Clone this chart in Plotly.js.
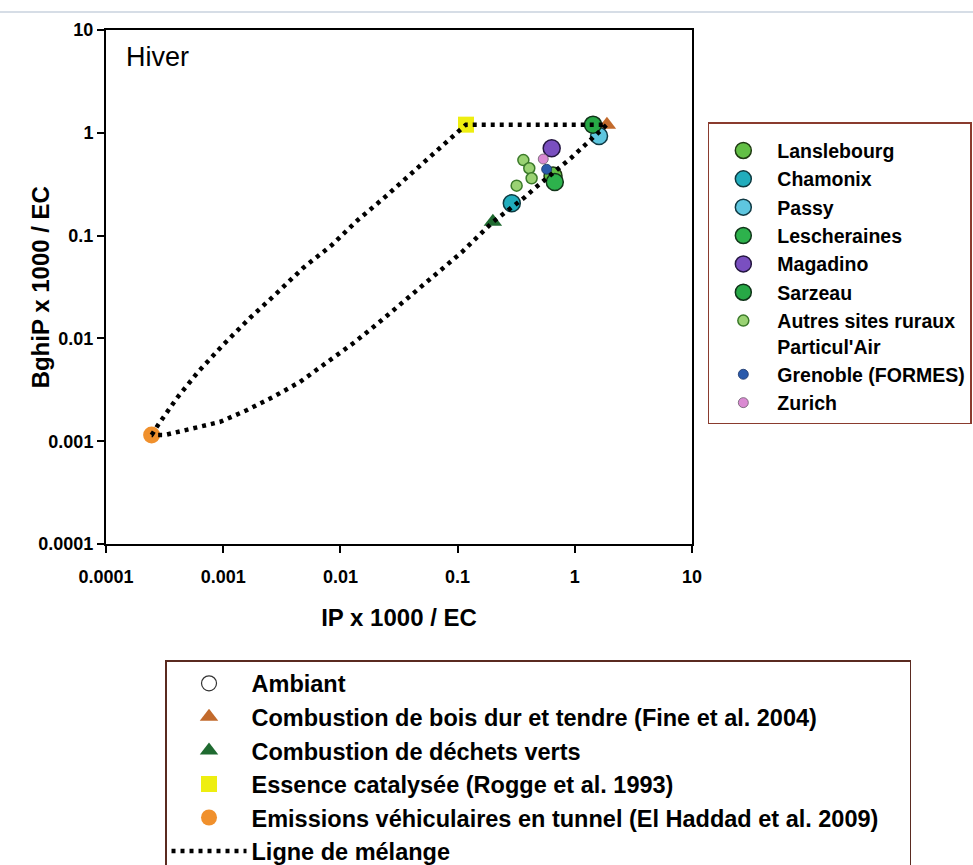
<!DOCTYPE html>
<html>
<head>
<meta charset="utf-8">
<script src="https://cdn.plot.ly/plotly-3.0.1.min.js"></script>
<style>html,body{margin:0;padding:0;background:#fff;}#chart{width:973px;height:865px;}</style>
</head>
<body>
<div id="chart"></div>
<script>
// ---- Tick labels ----
var tickValues = [0.0001, 0.001, 0.01, 0.1, 1, 10];
var tickLabels = ["0.0001", "0.001", "0.01", "0.1", "1", "10"];

// ---- Ambient sites (IP x1000/EC, BghiP x1000/EC) ----
var lanslebourgX = [0.652];  var lanslebourgY = [0.380];
var chamonixX = [0.290];     var chamonixY = [0.206];
var passyX = [1.61];         var passyY = [0.93];
var lescherainesX = [0.675]; var lescherainesY = [0.332];
var magadinoX = [0.635];     var magadinoY = [0.707];
var sarzeauX = [1.43];       var sarzeauY = [1.20];
var autresX = [0.364, 0.409, 0.428, 0.319];
var autresY = [0.543, 0.452, 0.361, 0.306];
var grenobleX = [0.575];     var grenobleY = [0.442];
var zurichX = [0.538];       var zurichY = [0.556];

// ---- Sources ----
var boisX = [1.88];          var boisY = [1.20];
var dechetsX = [0.200];      var dechetsY = [0.136];
var essenceX = [0.118];      var essenceY = [1.20];
var tunnelX = [0.000245];    var tunnelY = [0.00115];

// ---- Mixing line (read along the dotted path) ----
var mixX = [0.000245, 0.000278, 0.000403, 0.000610, 0.000995, 0.00169, 0.00288, 0.00480, 0.00847, 0.0141, 0.0240, 0.0408, 0.0681, 0.0989, 0.118,
            1.88, 1.30, 1.11, 0.929, 0.457, 0.376, 0.200, 0.155, 0.109, 0.0641, 0.0378, 0.0226, 0.0133, 0.00783, 0.00452, 0.00266, 0.00160, 0.000939, 0.000552, 0.000319, 0.000245];
var mixY = [0.00115, 0.00144, 0.00263, 0.00471, 0.00863, 0.0158, 0.0277, 0.0484, 0.0811, 0.142, 0.237, 0.406, 0.695, 0.995, 1.20,
            1.20, 0.814, 0.681, 0.569, 0.290, 0.237, 0.136, 0.101, 0.0692, 0.0414, 0.0247, 0.0151, 0.00923, 0.00589, 0.00377, 0.00269, 0.00201, 0.00154, 0.00134, 0.00115, 0.00115];

var FONT = "Liberation Sans, Arial, sans-serif";
var PAD = "\u00a0\u00a0\u00a0\u00a0";

function site(name, x, y, color, size, lineColor, lw) {
  return {type: "scatter", mode: "markers", name: name, x: x, y: y, legend: "legend",
    marker: {symbol: "circle", color: color, size: size, line: {color: lineColor, width: lw}},
    hoverinfo: "x+y+name"};
}
function source(name, x, y, symbol, color, size) {
  return {type: "scatter", mode: "markers", name: name, x: x, y: y, legend: "legend2",
    marker: {symbol: symbol, color: color, size: size, line: {width: 0}}};
}

var traces = [
  {type: "scatter", mode: "markers", name: "Ambiant", x: [null], y: [null], legend: "legend2",
   marker: {symbol: "circle", color: "#ffffff", size: 15, line: {color: "#333333", width: 1.2}}},
  source("Combustion de bois dur et tendre (Fine et al. 2004)", boisX, boisY, "triangle-up", "#c26a2c", 16),
  source("Combustion de déchets verts", dechetsX, dechetsY, "triangle-up", "#1f6a30", 16),
  source("Essence catalysée (Rogge et al. 1993)", essenceX, essenceY, "square", "#eeee10", 16),
  source("Emissions véhiculaires en tunnel (El Haddad et al. 2009)" + PAD, tunnelX, tunnelY, "circle", "#f0902c", 17),
  site("Lanslebourg", lanslebourgX, lanslebourgY, "#62bf45", 18, "#1f3a12", 1.5),
  site("Lescheraines", lescherainesX, lescherainesY, "#2db24c", 17, "#12351a", 1.5),
  site("Chamonix", chamonixX, chamonixY, "#21adbd", 17, "#0e3a40", 1.5),
  site("Passy", passyX, passyY, "#5ec6df", 17, "#103a44", 1.5),
  site("Magadino", magadinoX, magadinoY, "#7a4fc0", 17, "#241640", 1.5),
  site("Sarzeau", sarzeauX, sarzeauY, "#27a846", 17, "#0f3318", 1.5),
  site("Autres sites ruraux<br>Particul'Air", autresX, autresY, "#9ad273", 11, "#3b7a2a", 1.5),
  site("Grenoble (FORMES)", grenobleX, grenobleY, "#2a5aab", 10, "#1a3366", 0.8),
  site("Zurich", zurichX, zurichY, "#da8ad2", 10, "#6a5a6a", 0.8),
  {type: "scatter", mode: "lines", name: "Ligne de mélange", x: mixX, y: mixY, legend: "legend2",
   line: {color: "#000000", width: 4.5, dash: "4px,5px"}}
];

var rank = {"Lanslebourg":1, "Chamonix":2, "Passy":3, "Lescheraines":4, "Magadino":5, "Sarzeau":6,
            "Autres sites ruraux<br>Particul'Air":7, "Grenoble (FORMES)":8, "Zurich":9};
traces.forEach(function(t){ if (rank[t.name]) t.legendrank = rank[t.name]; });

var axisCommon = {
  type: "log", range: [-4, 1], tickvals: tickValues, ticktext: tickLabels,
  showgrid: false, zeroline: false, showline: true, linecolor: "#000", linewidth: 2, mirror: true,
  ticks: "outside", ticklen: 7, tickwidth: 2, tickcolor: "#000",
  tickfont: {family: FONT, size: 18, color: "#000", weight: "bold"}
};

var layout = {
  width: 973, height: 865,
  margin: {l: 106, r: 281, t: 30, b: 321, autoexpand: false},
  paper_bgcolor: "#ffffff", plot_bgcolor: "#ffffff",
  showlegend: true,
  xaxis: Object.assign({}, axisCommon, {ticklabelstandoff: 8,
    title: {text: "IP x 1000 / EC", font: {family: FONT, size: 24, color: "#000", weight: "bold"}, standoff: 24}}),
  yaxis: Object.assign({}, axisCommon, {title: {text: ""}}),
  legend: {x: 1.027, y: 0.821, xanchor: "left", yanchor: "top", bgcolor: "#ffffff",
    bordercolor: "#8a3b2e", borderwidth: 1.5, font: {family: FONT, size: 19.5, color: "#000", weight: "bold"},
    title: {text: "\u00a0", font: {size: 6}},
    itemwidth: 58, valign: "top", tracegroupgap: 0, traceorder: "normal"},
  legend2: {x: 0.1007, y: -0.2257, xanchor: "left", yanchor: "top", bgcolor: "#ffffff",
    bordercolor: "#5a2a20", borderwidth: 1.5, font: {family: FONT, size: 23.5, color: "#000", weight: "bold"},
    itemwidth: 75, valign: "middle", tracegroupgap: 0, traceorder: "normal"},
  annotations: [
    {xref: "paper", yref: "paper", x: 0.03, y: 0.947, xanchor: "left", yanchor: "middle",
     text: "Hiver", showarrow: false, font: {family: FONT, size: 27, color: "#000"}},
    {xref: "paper", yref: "paper", x: -0.112, y: 0.5, xanchor: "center", yanchor: "middle", textangle: -90,
     text: "BghiP x 1000 / EC", showarrow: false, font: {family: FONT, size: 24, color: "#000", weight: "bold"}}
  ],
  shapes: [{type: "line", xref: "paper", yref: "paper", x0: -0.2, x1: 1.5, y0: 1.035, y1: 1.035,
    line: {color: "#c9d2de", width: 1.5}}]
};

Plotly.newPlot("chart", traces, layout, {displayModeBar: false, staticPlot: true});
</script>
</body>
</html>
